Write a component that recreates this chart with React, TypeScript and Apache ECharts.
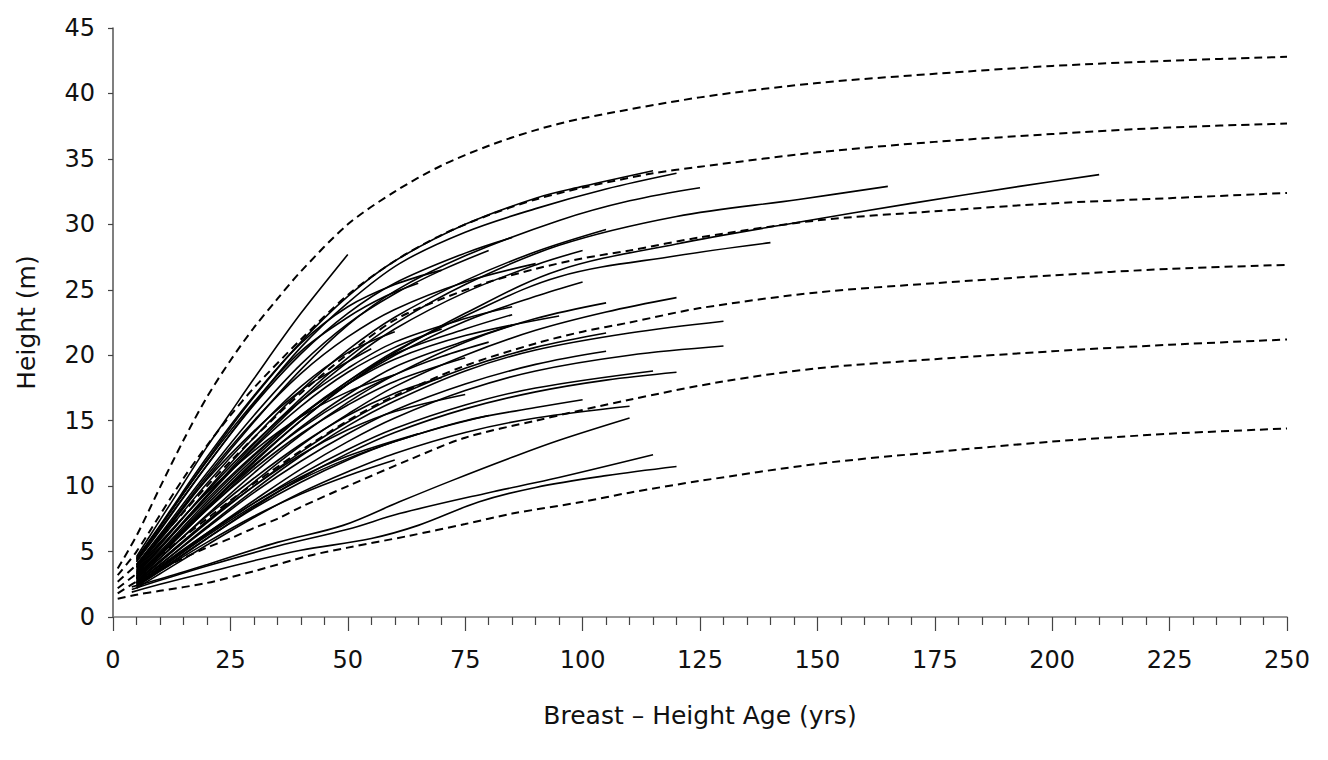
import React, { useEffect, useRef } from "react";
import * as echarts from "echarts";

// Axis ticks
const xTicks = [0, 25, 50, 75, 100, 125, 150, 175, 200, 225, 250];
const yTicks = [0, 5, 10, 15, 20, 25, 30, 35, 40, 45];

// Site-index (dashed) curves: [breast-height age, height]
const si30 = [[1,3.7],[5,6.2],[10,9.9],[15,13.5],[20,16.8],[25,19.6],[30,22.1],[35,24.3],[40,26.4],[50,30.0],[60,32.5],[70,34.5],[80,36.0],[90,37.2],[100,38.1],[125,39.7],[150,40.8],[175,41.5],[200,42.1],[225,42.5],[250,42.8]];
const si25 = [[1,3.2],[5,5.0],[10,7.8],[15,10.6],[20,13.1],[25,15.4],[30,17.5],[40,21.2],[50,24.6],[60,27.2],[70,29.2],[80,30.7],[90,31.9],[100,32.8],[115,33.9],[125,34.4],[150,35.5],[175,36.3],[200,36.9],[225,37.4],[250,37.7]];
const si20 = [[1,2.7],[5,4.0],[10,6.0],[15,8.0],[20,10.0],[25,11.9],[30,13.7],[40,17.1],[50,20.1],[60,22.7],[70,24.3],[80,25.6],[90,26.6],[100,27.4],[110,28.0],[125,29.0],[150,30.3],[175,31.0],[200,31.6],[225,32.0],[250,32.4]];
const si15 = [[1,2.2],[5,3.3],[10,4.7],[15,6.1],[20,7.5],[25,8.9],[30,10.2],[40,12.7],[50,15.0],[60,16.9],[75,19.2],[90,20.9],[100,21.8],[110,22.5],[125,23.6],[150,24.8],[175,25.5],[200,26.1],[225,26.6],[250,26.9]];
const si10 = [[1,1.8],[5,2.7],[10,3.6],[15,4.5],[20,5.3],[25,6.0],[30,6.8],[35,7.5],[40,8.4],[50,10.0],[63,12.0],[75,13.7],[90,15.0],[110,16.6],[130,18.0],[150,19.0],[175,19.7],[200,20.3],[225,20.8],[250,21.2]];
const si5 = [[1,1.4],[5,1.7],[10,2.0],[20,2.6],[30,3.5],[42,4.7],[50,5.3],[63,6.2],[75,7.1],[85,7.9],[100,8.8],[110,9.5],[125,10.4],[150,11.7],[175,12.6],[200,13.4],[225,14.0],[250,14.4]];

// Stem-analysis height-age curves (solid)
const t01 = [[5,4.6],[10,7.4],[15,10.2],[20,13.0],[25,15.6],[30,18.2],[40,23.2],[50,27.7]];
const t02 = [[5,4.4],[10,6.9],[20,12.0],[30,16.8],[40,21.0],[50,24.5],[60,27.2],[75,30.0],[90,32.0],[100,32.9],[115,34.1]];
const t03 = [[5,4.2],[10,6.6],[20,11.6],[30,16.3],[40,20.6],[50,24.0],[61,27.0],[75,29.4],[90,31.2],[105,32.7],[120,33.9]];
const t04 = [[5,3.8],[10,6.0],[20,10.6],[30,14.9],[40,18.9],[50,22.3],[60,24.9],[75,27.6],[95,30.3],[110,31.8],[125,32.8]];
const t05 = [[5,4.3],[10,6.7],[20,11.6],[30,16.2],[40,20.1],[50,23.2],[60,25.5],[75,27.8],[85,29.0]];
const t06 = [[5,4.0],[10,6.3],[20,11.0],[30,15.4],[40,19.3],[50,22.4],[60,24.7],[70,26.5],[80,28.0]];
const t07 = [[5,3.5],[10,5.5],[20,9.7],[30,13.7],[40,17.3],[50,20.4],[60,22.9],[75,25.7],[90,27.9],[105,29.6]];
const t08 = [[5,3.3],[10,5.2],[20,9.2],[30,13.0],[40,16.5],[50,19.5],[60,22.0],[75,24.8],[90,26.9],[100,28.0]];
const t09 = [[5,3.0],[10,4.8],[20,8.4],[30,11.9],[40,15.0],[50,17.8],[60,20.0],[75,22.6],[90,24.5],[100,25.6]];
const t10 = [[5,3.1],[10,4.9],[20,8.6],[30,12.1],[40,15.3],[50,18.0],[60,20.3],[75,23.0],[95,26.0],[120,27.6],[140,28.6]];
const t11 = [[5,3.4],[10,5.3],[20,9.3],[30,13.2],[40,16.7],[50,19.8],[60,22.4],[75,25.4],[95,28.4],[120,30.6],[146,31.9],[165,32.9]];
const t12 = [[5,3.0],[10,4.7],[20,8.3],[30,11.8],[40,15.0],[50,17.8],[60,20.2],[75,23.2],[95,26.5],[120,28.5],[145,30.1],[170,31.6],[193,32.9],[210,33.8]];
const t13 = [[5,2.9],[10,4.5],[20,7.8],[30,11.0],[40,13.9],[50,16.4],[60,18.5],[75,21.0],[90,22.8],[105,24.0]];
const t14 = [[5,2.7],[10,4.2],[20,7.3],[30,10.3],[40,13.1],[50,15.5],[60,17.6],[75,20.0],[90,21.9],[105,23.3],[120,24.4]];
const t15 = [[5,3.6],[10,5.6],[20,9.6],[30,13.3],[40,16.5],[50,19.0],[60,21.0],[75,22.8],[85,23.7]];
const t16 = [[5,3.2],[10,5.0],[20,8.8],[30,12.3],[40,15.4],[50,18.0],[60,20.1],[75,22.0],[85,23.1]];
const t17 = [[5,3.0],[10,4.7],[20,8.2],[30,11.5],[40,14.5],[50,17.0],[60,19.1],[75,21.1],[85,22.3]];
const t18 = [[5,2.6],[10,4.0],[20,6.9],[30,9.7],[40,12.3],[50,14.6],[60,16.5],[75,18.8],[90,20.4],[110,21.7],[130,22.6]];
const t19 = [[5,2.7],[10,4.2],[20,7.2],[30,10.0],[40,12.6],[50,14.9],[60,16.8],[75,19.0],[90,20.6],[105,21.7]];
const t20 = [[5,2.5],[10,3.8],[20,6.4],[30,8.9],[40,11.3],[50,13.4],[60,15.2],[75,17.3],[90,18.8],[110,20.0],[130,20.7]];
const t21 = [[5,2.6],[10,4.0],[20,6.8],[30,9.5],[40,11.9],[50,14.0],[60,15.8],[75,17.8],[90,19.3],[105,20.3]];
const t22 = [[5,3.0],[10,4.7],[20,8.2],[30,11.3],[40,14.0],[50,16.2],[60,18.0],[75,19.8]];
const t23 = [[5,2.4],[10,3.7],[20,6.3],[30,8.7],[40,10.9],[50,12.8],[60,14.4],[75,16.2],[90,17.5],[115,18.8]];
const t24 = [[5,2.3],[10,3.5],[20,6.0],[30,8.4],[40,10.6],[50,12.5],[60,14.1],[75,15.9],[90,17.2],[105,18.1],[120,18.7]];
const t25 = [[5,2.4],[10,3.6],[20,6.0],[30,8.3],[40,10.3],[50,12.0],[60,13.4],[75,15.0],[90,16.0],[100,16.6]];
const t26 = [[5,2.2],[10,3.3],[20,5.5],[30,7.6],[40,9.5],[50,11.1],[60,12.5],[75,14.1],[90,15.2],[110,16.1]];
const t27 = [[5,2.5],[10,3.7],[20,6.2],[30,8.5],[40,10.5],[50,12.1],[60,13.4],[70,14.5],[80,15.4]];
const t28 = [[4,2.3],[10,2.9],[20,4.0],[35,5.7],[49,7.0],[61,8.8],[72,10.4],[85,12.2],[95,13.5],[110,15.2]];
const t29 = [[4,2.1],[10,2.8],[20,3.9],[35,5.4],[50,6.7],[61,7.9],[80,9.5],[93,10.5],[115,12.4]];
const t30 = [[4,1.9],[10,2.5],[20,3.4],[30,4.3],[40,5.1],[55,6.0],[65,7.0],[78,8.8],[90,9.9],[105,10.8],[120,11.5]];
const t31 = [[5,4.4],[10,6.9],[20,11.9],[30,16.4],[40,20.3],[50,22.9],[58,24.5],[65,25.5]];
const t32 = [[5,3.3],[10,5.2],[20,9.2],[30,12.9],[40,16.1],[50,18.7],[60,20.6],[70,22.0]];
const t33 = [[5,3.7],[10,5.7],[20,9.5],[30,12.7],[40,15.3],[50,17.2],[60,18.5]];
const t34 = [[5,2.8],[10,4.3],[20,7.3],[30,10.0],[40,12.4],[50,14.3],[60,15.7],[75,17.0]];
const t35 = [[5,2.6],[10,3.9],[20,6.4],[30,8.7],[40,10.7],[50,12.3],[65,14.0]];
const t36 = [[5,4.0],[10,6.2],[20,10.5],[30,14.2],[40,17.3],[50,19.5],[55,20.5]];
const t37 = [[5,4.5],[10,7.0],[20,12.2],[30,16.9],[40,20.9],[50,23.7],[60,25.4],[70,26.5]];
const t38 = [[5,3.1],[10,4.8],[20,8.4],[30,11.6],[40,14.4],[50,16.7],[60,18.5],[70,19.9],[80,21.0]];
const t39 = [[5,2.4],[10,3.5],[20,5.7],[30,7.7],[40,9.4],[50,10.8],[60,12.0]];
const t40 = [[5,3.9],[10,6.1],[20,10.8],[30,15.0],[40,18.6],[50,21.4],[60,23.5],[75,25.6],[90,27.0]];
const t41 = [[5,2.9],[10,4.5],[20,7.7],[30,10.6],[40,13.2],[50,15.4],[60,17.1],[70,18.3]];
const t42 = [[5,3.4],[10,5.3],[20,9.0],[30,12.4],[40,15.4],[50,17.8],[60,19.7],[75,21.5],[95,23.0]];
const t43 = [[5,3.8],[10,5.9],[20,10.2],[30,14.1],[40,17.6],[50,20.2],[60,21.8]];

const dashedCurves = [si30, si25, si20, si15, si10, si5];
const stemCurves = [t01,t02,t03,t04,t05,t06,t07,t08,t09,t10,t11,t12,t13,t14,t15,t16,t17,t18,t19,t20,t21,t22,t23,t24,t25,t26,t27,t28,t29,t30,t31,t32,t33,t34,t35,t36,t37,t38,t39,t40,t41,t42,t43];

const FONT = "DejaVu Sans";

export default function App() {
  const ref = useRef<HTMLDivElement>(null);
  useEffect(() => {
    document.body.style.margin = "0";
    if (!ref.current) return;
    const chart = echarts.init(ref.current, undefined, { renderer: "svg" });
    const series: any[] = [];
    stemCurves.forEach((d, i) => {
      series.push({
        type: "line",
        name: "stem" + (i + 1),
        data: d,
        showSymbol: false,
        smooth: 0.35,
        silent: true,
        lineStyle: { color: "#000", width: 1.6 },
      });
    });
    dashedCurves.forEach((d, i) => {
      series.push({
        type: "line",
        name: "si" + (i + 1),
        data: d,
        showSymbol: false,
        smooth: 0.3,
        silent: true,
        lineStyle: { color: "#000", width: 2, type: [8, 5] },
      });
    });
    chart.setOption({
      animation: false,
      backgroundColor: "#fff",
      grid: { left: 113, right: 41, top: 28, bottom: 143, containLabel: false },
      xAxis: {
        type: "value",
        min: xTicks[0],
        max: xTicks[xTicks.length - 1],
        interval: 25,
        name: "Breast – Height Age (yrs)",
        nameLocation: "middle",
        nameGap: 86,
        nameTextStyle: { fontFamily: FONT, fontSize: 25, color: "#111" },
        axisLine: { show: true, lineStyle: { color: "#777", width: 1.5 } },
        axisTick: { show: true, length: 14, lineStyle: { color: "#444", width: 1.2 } },
        minorTick: { show: true, splitNumber: 5, length: 8, lineStyle: { color: "#444", width: 1.2 } },
        splitLine: { show: false },
        axisLabel: { fontFamily: FONT, fontSize: 24, color: "#111", margin: 31 },
      },
      yAxis: {
        type: "value",
        min: yTicks[0],
        max: yTicks[yTicks.length - 1],
        interval: 5,
        name: "Height (m)",
        nameLocation: "middle",
        nameGap: 74,
        nameTextStyle: { fontFamily: FONT, fontSize: 25, color: "#111" },
        axisLine: { show: true, lineStyle: { color: "#555", width: 1.5 } },
        axisTick: { show: true, length: 5, lineStyle: { color: "#444", width: 1.2 } },
        splitLine: { show: false },
        axisLabel: { fontFamily: FONT, fontSize: 24, color: "#111", margin: 18 },
      },
      series,
    });
    return () => chart.dispose();
  }, []);
  return <div ref={ref} style={{ width: 1328, height: 760 }} />;
}
